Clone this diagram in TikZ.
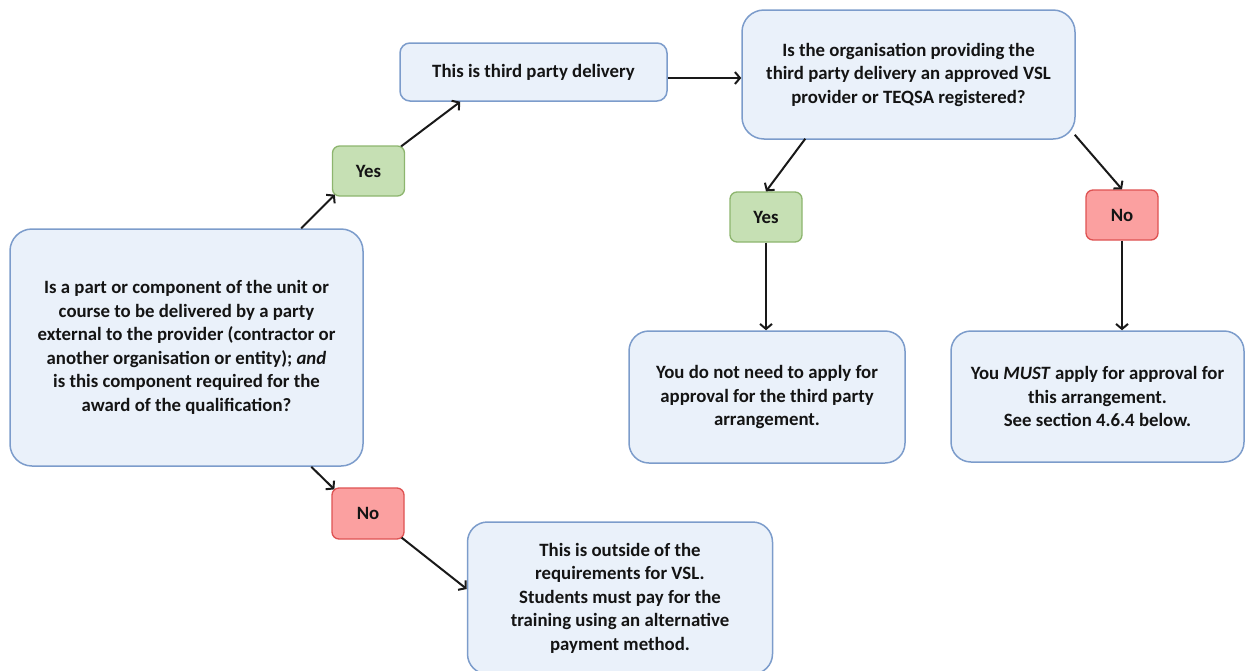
\documentclass[tikz,border=0pt]{standalone}
\usepackage{fontspec}
\setmainfont{Carlito}
\usetikzlibrary{arrows.meta,calc}
\definecolor{bfill}{HTML}{EAF1FA}
\definecolor{bdraw}{HTML}{7C9CCB}
\definecolor{gfill}{HTML}{C6E0B4}
\definecolor{gdraw}{HTML}{8DB56E}
\definecolor{rfill}{HTML}{FBA0A0}
\definecolor{rdraw}{HTML}{DE5252}
\tikzset{
  txt/.style={font=\fontsize{18.8}{23.5}\selectfont\bfseries, align=center, inner sep=0pt, text=black!92},
  bluebox/.style={txt, draw=bdraw, fill=bfill, line width=1.5pt, rounded corners=22pt},
  greenbox/.style={txt, draw=gdraw, fill=gfill, line width=1.3pt, rounded corners=7pt, minimum width=72pt, minimum height=50pt},
  redbox/.style={txt, draw=rdraw, fill=rfill, line width=1.3pt, rounded corners=7pt, minimum width=72pt, minimum height=50pt},
  arr/.style={draw=black!90, line width=2pt, -{Straight Barb[length=5pt,width=12pt,line width=2pt]}}
}
\begin{document}
\begin{tikzpicture}[x=1pt,y=-1pt]
\useasboundingbox (0,0) rectangle (1245,670);
\clip (0,0) rectangle (1245,670);
\node[bluebox, minimum width=353pt, minimum height=237pt] (main) at (186.5,347.5)
  {Is a part or component of the unit or\\course to be delivered by a party\\external to the provider (contractor or\\another organisation or entity); \textit{and}\\is this component required for the\\award of the qualification?};
\node[greenbox] (yes1) at (368.5,171) {Yes};
\node[bluebox, rounded corners=10pt, minimum width=267pt, minimum height=58pt] (third) at (533.5,72) {This is third party delivery};
\node[bluebox, minimum width=333pt, minimum height=129pt] (q2) at (908.5,74.5)
  {Is the organisation providing the\\third party delivery an approved VSL\\provider or TEQSA registered?};
\node[greenbox] (yes2) at (766,217) {Yes};
\node[redbox] (no2) at (1122,215) {No};
\node[bluebox, rounded corners=20pt, minimum width=276pt, minimum height=132pt] (noneed) at (767,397)
  {You do not need to apply for\\approval for the third party\\arrangement.};
\node[bluebox, rounded corners=20pt, minimum width=293pt, minimum height=131pt] (must) at (1097.5,396.5)
  {You \textit{MUST} apply for approval for\\this arrangement.\\See section 4.6.4 below.};
\node[redbox, minimum height=51pt] (no1) at (368,513.5) {No};
\node[bluebox, rounded corners=20pt, minimum width=305pt, minimum height=152pt] (outside) at (620,598)
  {This is outside of the\\requirements for VSL.\\Students must pay for the\\training using an alternative\\payment method.};
\draw[arr] ($(main.north west)+(292,0)$) -- ($(yes1.south west)+(3,-2)$);
\draw[arr] ($(yes1.north east)+(-4,1)$) -- ($(third.south west)+(61,0)$);
\draw[arr] ($(third.east)+(0,6)$) -- ($(q2.west)+(0,3.5)$);
\draw[arr] ($(q2.south west)+(64,-1)$) -- (yes2.north);
\draw[arr] ($(q2.south east)+(-1,-5)$) -- (no2.north);
\draw[arr] (yes2.south) -- (yes2.south |- noneed.north);
\draw[arr] (no2.south) -- (no2.south |- must.north);
\draw[arr] ($(main.south west)+(302,0)$) -- ($(no1.north west)+(3,2)$);
\draw[arr] ($(no1.south east)+(-3,-2)$) -- ($(outside.west)+(0,-9)$);
\end{tikzpicture}
\end{document}
